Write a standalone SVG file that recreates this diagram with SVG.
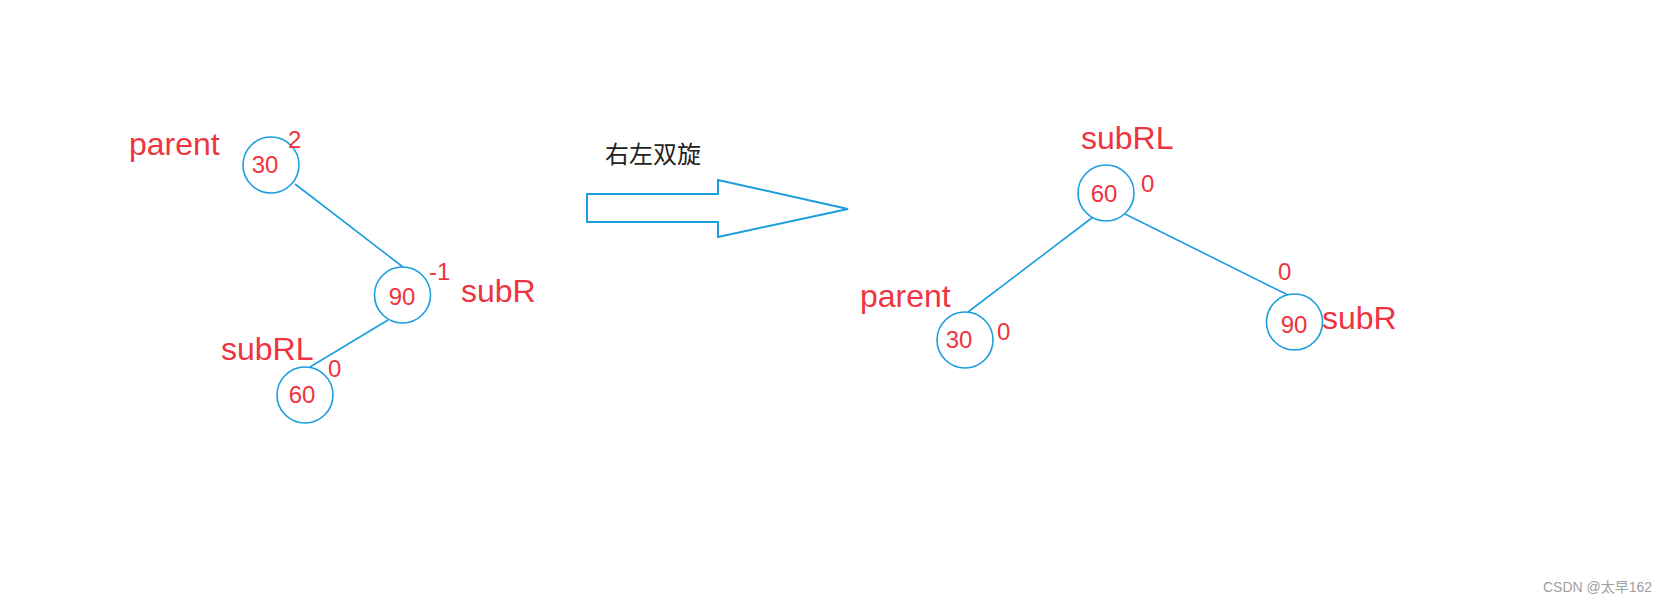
<svg xmlns="http://www.w3.org/2000/svg" width="1671" height="602" viewBox="0 0 1671 602">
<style>
.node{fill:#fff;stroke:#1B9DDE;stroke-width:1.6}
.edge{stroke:#1B9DDE;stroke-width:1.6;fill:none}
.val{font-family:"Liberation Sans",Arial,sans-serif;font-size:24px;fill:#EE3440}
.bf{font-family:"Liberation Sans",Arial,sans-serif;font-size:24px;fill:#EE3440}
.lbl{font-family:"Liberation Sans",Arial,sans-serif;font-size:32px;fill:#EE3440}
.cap{font-family:"Noto Sans CJK SC",sans-serif;font-size:24px;fill:#222}
.wm{font-family:"Liberation Sans","Noto Sans CJK SC",sans-serif;font-size:14px;fill:#A0A0A0}
</style>
<rect width="1671" height="602" fill="#fff"/>
<g id="connectors">
<line class="edge" x1="295" y1="184" x2="403" y2="267"/>
<line class="edge" x1="388" y1="320" x2="310" y2="367"/>
<line class="edge" x1="1093" y1="217" x2="968" y2="312"/>
<line class="edge" x1="1125" y1="214" x2="1288" y2="295"/>
</g>
<g id="arrow">
<polygon points="587,194 718,194 718,180 848,209 718,237 718,222 587,222" fill="#fff" stroke="#1B9DDE" stroke-width="2"/>
<text class="cap" x="605" y="163">右左双旋</text>
</g>
<g id="L30">
<circle class="node" cx="271" cy="165" r="28"/>
<text class="val" x="265" y="173" text-anchor="middle">30</text>
<text class="lbl" x="129" y="155">parent</text>
<text class="bf" x="288" y="148">2</text>
</g>
<g id="L90">
<circle class="node" cx="402.5" cy="295" r="28"/>
<text class="val" x="402" y="305" text-anchor="middle">90</text>
<text class="bf" x="429" y="280">-1</text>
<text class="lbl" x="461" y="302">subR</text>
</g>
<g id="L60">
<circle class="node" cx="305" cy="395" r="28"/>
<text class="val" x="302" y="403" text-anchor="middle">60</text>
<text class="lbl" x="221" y="360">subRL</text>
<text class="bf" x="328" y="377">0</text>
</g>
<g id="R60">
<circle class="node" cx="1106" cy="193" r="28"/>
<text class="val" x="1104" y="202" text-anchor="middle">60</text>
<text class="lbl" x="1081" y="149">subRL</text>
<text class="bf" x="1141" y="192">0</text>
</g>
<g id="R30">
<circle class="node" cx="965" cy="340" r="28"/>
<text class="val" x="959" y="348" text-anchor="middle">30</text>
<text class="lbl" x="860" y="307">parent</text>
<text class="bf" x="997" y="340">0</text>
</g>
<g id="R90">
<circle class="node" cx="1294.5" cy="322" r="28"/>
<text class="val" x="1294" y="333" text-anchor="middle">90</text>
<text class="bf" x="1278" y="280">0</text>
<text class="lbl" x="1322" y="329">subR</text>
</g>
<text class="wm" x="1543" y="592">CSDN @太早162</text>
</svg>
